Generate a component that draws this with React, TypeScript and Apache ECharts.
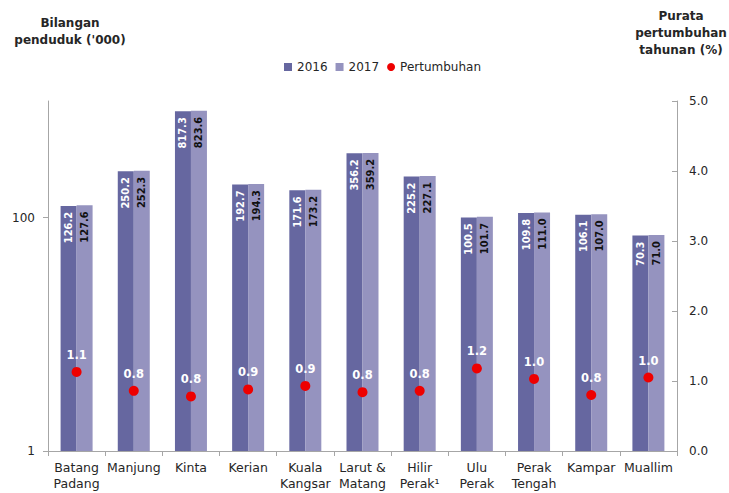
import React, { useEffect, useRef } from 'react';
import * as echarts from 'echarts';

const categories = [
  'Batang\nPadang',
  'Manjung',
  'Kinta',
  'Kerian',
  'Kuala\nKangsar',
  'Larut &\nMatang',
  'Hilir\nPerak¹',
  'Ulu\nPerak',
  'Perak\nTengah',
  'Kampar',
  'Muallim',
];
const pop2016 = [126.2, 250.2, 817.3, 192.7, 171.6, 356.2, 225.2, 100.5, 109.8, 106.1, 70.3];
const pop2017 = [127.6, 252.3, 823.6, 194.3, 173.2, 359.2, 227.1, 101.7, 111.0, 107.0, 71.0];
const growth = [1.13, 0.86, 0.78, 0.88, 0.93, 0.84, 0.86, 1.18, 1.03, 0.8, 1.05];
const growthLabels = ['1.1', '0.8', '0.8', '0.9', '0.9', '0.8', '0.8', '1.2', '1.0', '0.8', '1.0'];
const leftTicks = [1, 100];

const FONT = 'DejaVu Sans';
const AXIS_COLOR = '#a6a6a6';
const TEXT_COLOR = '#262626';

export default function App() {
  const ref = useRef<HTMLDivElement>(null);
  useEffect(() => {
    if (!ref.current) return;
    const chart = echarts.init(ref.current, undefined, { renderer: 'svg' });
    const barLabel = (color: string) => ({
      show: true,
      position: 'insideTop',
      rotate: 90,
      align: 'right',
      verticalAlign: 'middle',
      distance: 6,
      color,
      fontWeight: 'bold',
      fontSize: 11,
      fontFamily: 'DejaVu Sans Condensed',
      textBorderWidth: 0,
      formatter: (p: any) => Number(p.value).toFixed(1),
    });
    chart.setOption({
      animation: false,
      backgroundColor: '#ffffff',
      textStyle: { fontFamily: FONT },
      graphic: [
        {
          type: 'text',
          x: 70,
          y: 14,
          style: {
            text: "Bilangan\npenduduk ('000)",
            textAlign: 'center',
            textVerticalAlign: 'top',
            lineHeight: 17,
            font: `bold 12px "${FONT}"`,
            fill: TEXT_COLOR,
          },
        },
        {
          type: 'text',
          x: 681,
          y: 7,
          style: {
            text: 'Purata\npertumbuhan\ntahunan (%)',
            textAlign: 'center',
            textVerticalAlign: 'top',
            lineHeight: 17,
            font: `bold 12px "${FONT}"`,
            fill: TEXT_COLOR,
          },
        },
      ],
      legend: {
        left: 279,
        top: 56,
        itemWidth: 8,
        itemHeight: 8,
        itemGap: 8,
        textStyle: { fontSize: 12, color: TEXT_COLOR, fontFamily: FONT },
        data: [
          { name: '2016', icon: 'rect' },
          { name: '2017', icon: 'rect' },
          { name: 'Pertumbuhan', icon: 'circle' },
        ],
      },
      grid: { left: 48, right: 52, top: 101, bottom: 42, containLabel: false },
      xAxis: {
        type: 'category',
        data: categories,
        axisLine: { show: true, lineStyle: { color: AXIS_COLOR } },
        axisTick: { show: true, length: 5, interval: 0, lineStyle: { color: AXIS_COLOR } },
        axisLabel: {
          interval: 0,
          margin: 8,
          fontSize: 12.5,
          lineHeight: 16,
          color: TEXT_COLOR,
          fontFamily: FONT,
        },
        splitLine: { show: false },
      },
      yAxis: [
        {
          type: 'log',
          logBase: 10,
          min: 1,
          max: 1000,
          axisLine: { show: true, lineStyle: { color: AXIS_COLOR } },
          axisTick: { show: true, length: 5, customValues: leftTicks, lineStyle: { color: AXIS_COLOR } },
          axisLabel: { customValues: leftTicks, margin: 13, fontSize: 12, color: TEXT_COLOR, fontFamily: FONT },
          splitLine: { show: false },
        },
        {
          type: 'value',
          min: 0,
          max: 5,
          interval: 1,
          position: 'right',
          axisLine: { show: true, lineStyle: { color: AXIS_COLOR } },
          axisTick: { show: true, inside: true, length: 5, lineStyle: { color: AXIS_COLOR } },
          axisLabel: {
            margin: 12,
            fontSize: 12,
            color: TEXT_COLOR,
            fontFamily: FONT,
            formatter: (v: number) => v.toFixed(1),
          },
          splitLine: { show: false },
        },
      ],
      series: [
        {
          name: '2016',
          type: 'bar',
          data: pop2016,
          barWidth: 16,
          barGap: '0%',
          itemStyle: { color: '#6667a0' },
          label: barLabel('#ffffff'),
        },
        {
          name: '2017',
          type: 'bar',
          data: pop2017,
          barWidth: 16,
          barGap: '0%',
          itemStyle: { color: '#9593bf' },
          label: barLabel('#111111'),
        },
        {
          name: 'Pertumbuhan',
          type: 'scatter',
          yAxisIndex: 1,
          data: growth,
          symbol: 'circle',
          symbolSize: 10,
          z: 5,
          itemStyle: { color: '#ee0000', opacity: 1 },
          label: {
            show: true,
            position: 'top',
            distance: 6,
            color: '#ffffff',
            textBorderWidth: 0,
            textBorderColor: 'transparent',
            fontWeight: 'bold',
            fontSize: 11.5,
            fontFamily: FONT,
            formatter: (p: any) => growthLabels[p.dataIndex],
          },
        },
      ],
    });
    return () => chart.dispose();
  }, []);
  return <div ref={ref} style={{ width: 729, height: 493, position: 'absolute', left: 0, top: 0 }} />;
}
